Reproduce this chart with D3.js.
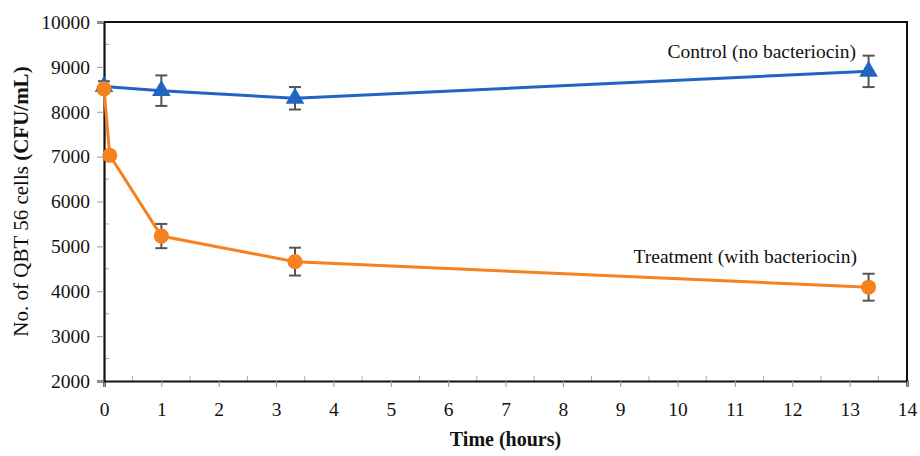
<!DOCTYPE html>
<meta charset="utf-8">
<style>
    body { margin: 0; background: #fff; }
    text { font-family: "Liberation Serif", "Times New Roman", serif; fill: #111; }
    .tick text { font-size: 19.5px; }
    .domain { stroke: #111; stroke-width: 2.2px; }
    .tick line { stroke: #999; }
</style>
<svg width="920" height="456"></svg>
<script src="https://cdn.jsdelivr.net/npm/d3@7"></script>
<script>
    // data
    var controlTime = [0, 1, 3.33, 13.33];
    var controlCount = [8560, 8470, 8300, 8900];
    var controlErr = [120, 340, 250, 350];

    var treatTime = [0, 0.1, 1, 3.33, 13.33];
    var treatCount = [8510, 7030, 5230, 4660, 4090];
    var treatErr = [80, 80, 270, 310, 300];

    var xTicks = d3.range(0, 15);
    var yTicks = d3.range(2000, 10001, 1000);

    var svg = d3.select("svg"),
        mLeft = 104, mRight = 907, mTop = 22, mBottom = 381;

    var x = d3.scaleLinear().domain([0, 14]).range([mLeft, mRight]);
    var y = d3.scaleLinear().domain([2000, 10000]).range([mBottom, mTop]);

    // frame on top and right
    svg.append("path")
        .attr("d", "M" + mLeft + "," + mTop + "H" + mRight + "V" + mBottom)
        .attr("fill", "none").attr("stroke", "#111").attr("stroke-width", 2);

    // minor ticks (inside)
    svg.append("g").selectAll("line")
        .data(d3.range(2500, 10000, 1000))
        .enter().append("line")
        .attr("x1", mLeft).attr("x2", mLeft + 5)
        .attr("y1", y).attr("y2", y)
        .attr("stroke", "#aaa");
    svg.append("g").selectAll("line")
        .data(d3.range(0.5, 14, 1))
        .enter().append("line")
        .attr("y1", mBottom).attr("y2", mBottom - 5)
        .attr("x1", x).attr("x2", x)
        .attr("stroke", "#aaa");

    svg.append("g")
        .attr("transform", "translate(0," + mBottom + ")")
        .call(d3.axisBottom(x).tickValues(xTicks).tickFormat(d3.format("d")).tickSize(6).tickPadding(15));
    svg.append("g")
        .attr("transform", "translate(" + mLeft + ",0)")
        .call(d3.axisLeft(y).tickValues(yTicks).tickFormat(d3.format("d")).tickSize(7).tickPadding(7));

    // axis titles
    svg.append("text")
        .attr("x", (mLeft + mRight) / 2).attr("y", 446)
        .attr("text-anchor", "middle")
        .style("font-size", "20px").style("font-weight", "bold")
        .text("Time (hours)");

    var yt = svg.append("text")
        .attr("transform", "translate(28," + ((mTop + mBottom) / 2) + ") rotate(-90)")
        .attr("text-anchor", "middle")
        .style("font-size", "21px");
    yt.append("tspan").text("No. of QBT 56 cells ");
    yt.append("tspan").style("font-weight", "bold").text("(CFU/mL)");

    var line = d3.line()
        .x(function (d) { return x(d[0]); })
        .y(function (d) { return y(d[1]); });

    function drawSeries(times, counts, errs, color, shape) {
        var pts = times.map(function (t, i) { return [t, counts[i], errs[i]]; });
        svg.append("path")
            .datum(pts)
            .attr("d", line)
            .attr("fill", "none")
            .attr("stroke", color)
            .attr("stroke-width", 3);

        var eb = svg.append("g").selectAll("g")
            .data(pts).enter().append("g")
            .attr("stroke", "#555").attr("stroke-width", 2);
        eb.append("line")
            .attr("x1", function (d) { return x(d[0]); })
            .attr("x2", function (d) { return x(d[0]); })
            .attr("y1", function (d) { return y(d[1] + d[2]); })
            .attr("y2", function (d) { return y(d[1] - d[2]); });
        eb.append("line")
            .attr("x1", function (d) { return x(d[0]) - 6; })
            .attr("x2", function (d) { return x(d[0]) + 6; })
            .attr("y1", function (d) { return y(d[1] + d[2]); })
            .attr("y2", function (d) { return y(d[1] + d[2]); });
        eb.append("line")
            .attr("x1", function (d) { return x(d[0]) - 6; })
            .attr("x2", function (d) { return x(d[0]) + 6; })
            .attr("y1", function (d) { return y(d[1] - d[2]); })
            .attr("y2", function (d) { return y(d[1] - d[2]); });

        svg.append("g").selectAll("path")
            .data(pts).enter().append("path")
            .attr("d", d3.symbol().type(shape).size(shape === d3.symbolCircle ? 180 : 150))
            .attr("transform", function (d) { return "translate(" + x(d[0]) + "," + y(d[1]) + ")"; })
            .attr("fill", color);
    }

    drawSeries(controlTime, controlCount, controlErr, "#2264c4", d3.symbolTriangle);
    drawSeries(treatTime, treatCount, treatErr, "#f5821f", d3.symbolCircle);

    svg.append("text")
        .attr("x", 856).attr("y", 58)
        .attr("text-anchor", "end")
        .style("font-size", "19.5px")
        .text("Control (no bacteriocin)");
    svg.append("text")
        .attr("x", 857).attr("y", 263)
        .attr("text-anchor", "end")
        .style("font-size", "19.5px")
        .text("Treatment (with bacteriocin)");
</script>
